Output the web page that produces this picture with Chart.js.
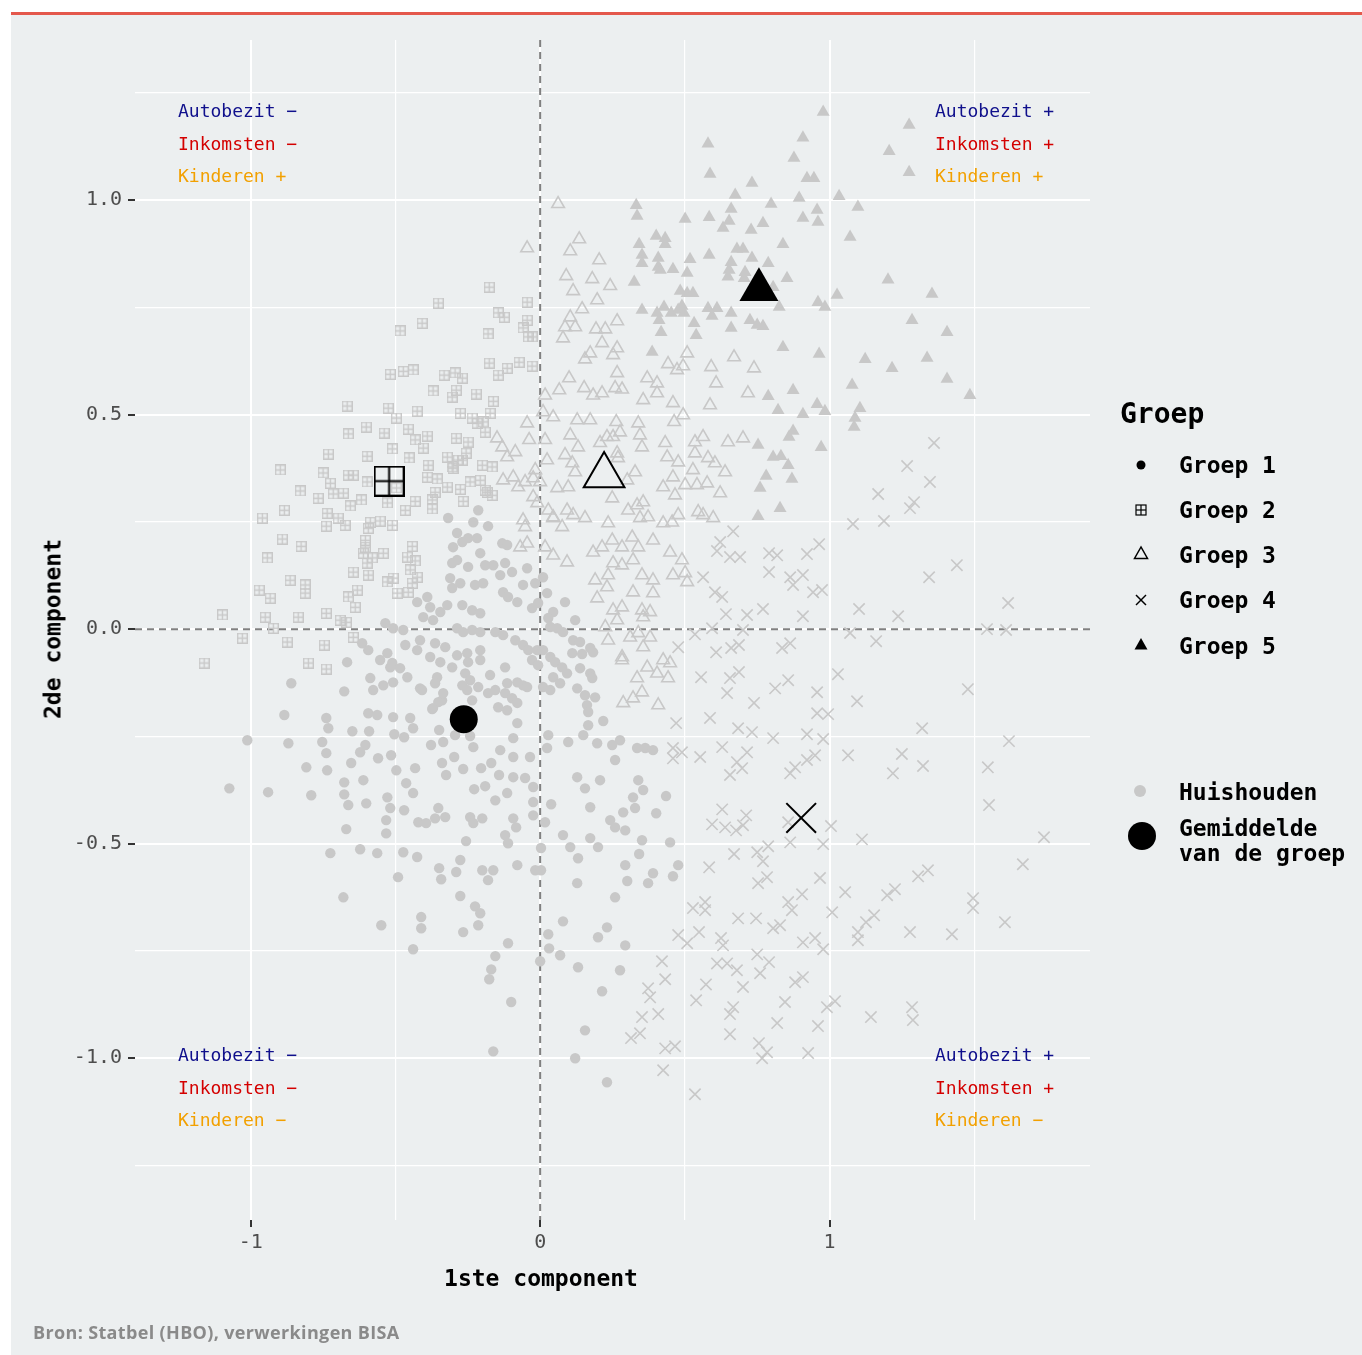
<!DOCTYPE html>
<html lang="nl">
<head>
<meta charset="utf-8">
<script src="https://cdn.jsdelivr.net/npm/chart.js@4.4.1/dist/chart.umd.min.js"></script>
<style>
  html, body { margin: 0; padding: 0; background: #fff; }
  body { width: 1362px; height: 1355px; position: relative; overflow: hidden; font-family: 'DejaVu Sans Mono', monospace; }
  .card { position: absolute; left: 11px; top: 12px; width: 1351px; height: 1343px; background: #eceff0; border-top: 3px solid #e4584c; box-sizing: border-box; }
  #pca { position: absolute; left: 0; top: 0; }
  .note { position: absolute; font-size: 18px; line-height: 18px; white-space: pre; }
  .auto { color: #10108c; }
  .ink { color: #d40000; }
  .kind { color: #f2a000; }
  .leg { position: absolute; left: 1179px; font-size: 23px; line-height: 23px; font-weight: bold; color: #000; white-space: pre; }
  .legtitle { position: absolute; left: 1120px; top: 400px; font-size: 28px; line-height: 28px; font-weight: bold; }
  .axtitle { position: absolute; font-size: 23px; line-height: 23px; font-weight: bold; white-space: pre; }
  .bron { position: absolute; left: 33px; top: 1321px; font-family: 'Open Sans', sans-serif; font-weight: bold; font-size: 18px; letter-spacing: 0.35px; line-height: 22px; color: #8a8a8a; }
  #legsym { position: absolute; left: 0; top: 0; }
</style>
</head>
<body>
<div class="card"></div>
<canvas id="pca" width="1362" height="1355"></canvas>

<div class="note auto" style="left:178px;top:102px">Autobezit −</div>
<div class="note ink" style="left:178px;top:135px">Inkomsten −</div>
<div class="note kind" style="left:178px;top:167px">Kinderen +</div>
<div class="note auto" style="left:935px;top:102px">Autobezit +</div>
<div class="note ink" style="left:935px;top:135px">Inkomsten +</div>
<div class="note kind" style="left:935px;top:167px">Kinderen +</div>
<div class="note auto" style="left:178px;top:1046px">Autobezit −</div>
<div class="note ink" style="left:178px;top:1079px">Inkomsten −</div>
<div class="note kind" style="left:178px;top:1111px">Kinderen −</div>
<div class="note auto" style="left:935px;top:1046px">Autobezit +</div>
<div class="note ink" style="left:935px;top:1079px">Inkomsten +</div>
<div class="note kind" style="left:935px;top:1111px">Kinderen −</div>

<div class="axtitle" style="left:541px;top:1267px;transform:translateX(-50%)">1ste component</div>
<div class="axtitle" style="left:53px;top:629px;transform:translate(-50%,-50%) rotate(-90deg)">2de component</div>

<div class="legtitle">Groep</div>
<div class="leg" style="top:454px">Groep 1</div>
<div class="leg" style="top:499px">Groep 2</div>
<div class="leg" style="top:544px">Groep 3</div>
<div class="leg" style="top:589px">Groep 4</div>
<div class="leg" style="top:635px">Groep 5</div>
<div class="leg" style="top:781px">Huishouden</div>
<div class="leg" style="top:817px">Gemiddelde</div>
<div class="leg" style="top:842px">van de groep</div>

<svg id="legsym" width="1362" height="1355">
  <circle cx="1141" cy="465" r="4.5" fill="#000"/>
  <g stroke="#000" stroke-width="1.2" fill="none">
    <rect x="1136" y="505" width="10" height="10"/>
    <line x1="1141" y1="505" x2="1141" y2="515"/>
    <line x1="1136" y1="510" x2="1146" y2="510"/>
  </g>
  <polygon points="1141,547 1134.5,558.5 1147.5,558.5" fill="none" stroke="#000" stroke-width="1.5"/>
  <g stroke="#000" stroke-width="1.5">
    <line x1="1136" y1="595" x2="1146" y2="605"/>
    <line x1="1146" y1="595" x2="1136" y2="605"/>
  </g>
  <polygon points="1141,638 1134.5,649.5 1147.5,649.5" fill="#000"/>
  <circle cx="1140" cy="791" r="6" fill="rgb(200,200,200)"/>
  <circle cx="1142" cy="836" r="14" fill="#000"/>
</svg>

<div class="bron">Bron: Statbel (HBO), verwerkingen BISA</div>

<script>
// axes
const X_GRID = [-1, -0.5, 0, 0.5, 1, 1.5];
const X_LABELS = [-1, 0, 1];
const Y_GRID = [-1.25, -1, -0.75, -0.5, -0.25, 0, 0.25, 0.5, 0.75, 1, 1.25];
const Y_LABELS = [-1, -0.5, 0, 0.5, 1];

// group means: Groep 1..5
const MEAN_X = [-0.264, -0.522, 0.221, 0.902, 0.756];
const MEAN_Y = [-0.210, 0.345, 0.358, -0.440, 0.791];

// households, [1ste component, 2de component]
const GROEP1 = [
  [-0.214,0.277],[-0.318,0.259],[-0.231,0.249],[-0.180,0.240],[-0.287,0.224],[-0.249,0.212],[-0.218,0.212],[-0.301,0.191],
  [-0.269,0.203],[-0.131,0.200],[-0.114,0.196],[-0.207,0.177],[-0.304,0.154],[-0.287,0.161],[-0.249,0.145],[-0.190,0.149],
  [-0.162,0.149],[-0.121,0.154],[-0.045,0.142],[-0.097,0.133],[-0.138,0.126],[-0.311,0.119],[-0.276,0.107],[-0.225,0.103],
  [-0.197,0.107],[-0.059,0.103],[-0.017,0.107],[0.010,0.121],[-0.304,0.096],[-0.128,0.086],[-0.111,0.075],[-0.079,0.063],
  [-0.390,0.075],[-0.425,0.063],[-0.380,0.051],[-0.321,0.056],[-0.345,0.040],[-0.269,0.056],[-0.235,0.044],[-0.207,0.037],
  [-0.370,0.021],[-0.404,0.028],[-0.028,0.049],[-0.007,0.061],[0.024,0.084],[0.086,0.063],[0.045,0.040],[0.121,0.021],
  [0.028,0.026],[-0.535,0.014],[-0.508,0.002],[-0.473,-0.002],[-0.287,0.002],[-0.266,-0.007],[-0.235,-0.002],[-0.207,-0.007],
  [-0.155,-0.007],[-0.128,-0.014],[0.035,0.005],[0.059,0.002],[0.079,-0.007],[0.114,-0.026],[0.138,-0.030],[-0.086,-0.026],
  [-0.059,-0.037],[-0.041,-0.049],[-0.010,-0.049],[0.010,-0.049],[-0.028,-0.072],[-0.007,-0.084],[0.035,-0.065],[0.052,-0.077],
  [0.111,-0.056],[0.145,-0.058],[0.173,-0.044],[0.183,-0.054],[0.076,-0.089],[0.093,-0.103],[0.138,-0.091],[0.173,-0.103],
  [0.180,-0.114],[0.045,-0.112],[0.069,-0.126],[0.128,-0.138],[0.155,-0.154],[0.190,-0.159],[0.162,-0.177],[0.166,-0.193],
  [0.010,-0.135],[0.035,-0.142],[-0.114,-0.126],[-0.079,-0.124],[-0.059,-0.131],[-0.045,-0.135],[-0.121,-0.149],[-0.097,-0.161],
  [-0.079,-0.172],[-0.173,-0.107],[-0.155,-0.142],[-0.145,-0.182],[-0.114,-0.189],[-0.415,-0.026],[-0.363,-0.033],[-0.328,-0.042],
  [-0.466,-0.037],[-0.425,-0.049],[-0.528,-0.056],[-0.511,-0.079],[-0.484,-0.091],[-0.380,-0.065],[-0.345,-0.077],[-0.287,-0.061],
  [-0.252,-0.056],[-0.249,-0.077],[-0.207,-0.049],[-0.207,-0.072],[-0.259,-0.103],[-0.242,-0.119],[-0.459,-0.112],[-0.415,-0.138],
  [-0.356,-0.112],[-0.363,-0.126],[-0.304,-0.089],[-0.339,-0.166],[-0.370,-0.184],[-0.269,-0.131],[-0.252,-0.142],[-0.214,-0.135],
  [-0.235,-0.166],[-0.180,-0.149],[-0.615,-0.033],[-0.594,-0.049],[-0.667,-0.077],[-0.553,-0.072],[-0.518,-0.089],[-0.587,-0.114],
  [-0.577,-0.142],[-0.542,-0.131],[-0.508,-0.124],[-0.408,-0.142],[-0.335,-0.149],[-0.352,-0.170],[-0.373,-0.186],[-0.121,-0.089],
  [-0.079,-0.219],[-0.093,-0.254],[-0.093,-0.298],[-0.138,-0.282],[-0.035,-0.298],[-0.052,-0.347],[-0.024,-0.368],[-0.093,-0.345],
  [-0.114,-0.382],[-0.024,-0.403],[-0.024,-0.434],[-0.093,-0.441],[-0.083,-0.462],[-0.121,-0.480],[-0.111,-0.499],[-0.079,-0.550],
  [-0.017,-0.562],[-0.162,-0.562],[-0.180,-0.585],[-0.200,-0.562],[-0.256,-0.494],[-0.276,-0.538],[-0.290,-0.566],[-0.276,-0.622],
  [-0.225,-0.646],[-0.207,-0.662],[-0.214,-0.690],[-0.266,-0.706],[-0.111,-0.732],[-0.155,-0.762],[-0.169,-0.793],[-0.176,-0.816],
  [-0.100,-0.869],[-0.162,-0.984],[-0.411,-0.671],[-0.411,-0.697],[-0.439,-0.746],[-0.549,-0.690],[-0.680,-0.625],[-0.491,-0.578],
  [-0.622,-0.513],[-0.563,-0.522],[-0.473,-0.520],[-0.425,-0.531],[-0.725,-0.522],[-0.670,-0.466],[-0.532,-0.476],[-0.532,-0.445],
  [-0.518,-0.417],[-0.470,-0.422],[-0.421,-0.450],[-0.394,-0.452],[-0.363,-0.441],[-0.352,-0.417],[-0.328,-0.438],[-0.242,-0.438],
  [-0.231,-0.452],[-0.200,-0.441],[-0.349,-0.557],[-0.342,-0.583],[-0.528,-0.392],[-0.439,-0.382],[-0.463,-0.359],[-0.611,-0.352],
  [-0.677,-0.357],[-0.677,-0.385],[-0.663,-0.410],[-0.601,-0.406],[-0.808,-0.322],[-0.736,-0.329],[-0.653,-0.312],[-0.604,-0.270],
  [-0.622,-0.287],[-0.560,-0.301],[-0.515,-0.294],[-0.497,-0.329],[-0.432,-0.324],[-0.339,-0.312],[-0.325,-0.340],[-0.297,-0.298],
  [-0.266,-0.326],[-0.231,-0.275],[-0.204,-0.324],[-0.169,-0.312],[-0.142,-0.340],[-0.155,-0.399],[-0.228,-0.373],[-0.190,-0.366],
  [-0.377,-0.270],[-0.335,-0.263],[-0.294,-0.247],[-0.242,-0.249],[-0.349,-0.235],[-0.439,-0.231],[-0.470,-0.252],[-0.504,-0.245],
  [-0.591,-0.238],[-0.649,-0.238],[-0.739,-0.207],[-0.732,-0.231],[-0.753,-0.263],[-0.739,-0.289],[-0.870,-0.266],[-0.884,-0.200],
  [-0.860,-0.126],[-0.677,-0.145],[-1.012,-0.259],[-1.074,-0.371],[-0.940,-0.380],[-0.791,-0.387],[-0.594,-0.196],[-0.563,-0.200],
  [-0.508,-0.205],[-0.449,-0.207],[0.218,-0.214],[0.166,-0.224],[0.149,-0.247],[0.097,-0.263],[0.197,-0.266],[0.249,-0.270],
  [0.276,-0.259],[0.335,-0.277],[0.363,-0.277],[0.390,-0.282],[0.259,-0.305],[0.128,-0.345],[0.155,-0.371],[0.207,-0.352],
  [0.339,-0.352],[0.356,-0.375],[0.321,-0.392],[0.435,-0.389],[0.173,-0.415],[0.287,-0.427],[0.328,-0.417],[0.401,-0.429],
  [0.242,-0.445],[0.259,-0.462],[0.294,-0.469],[0.079,-0.480],[0.173,-0.487],[0.352,-0.492],[0.449,-0.497],[0.104,-0.508],
  [0.200,-0.508],[0.342,-0.524],[0.131,-0.534],[0.294,-0.550],[0.477,-0.550],[0.128,-0.592],[0.301,-0.587],[0.373,-0.592],
  [0.390,-0.569],[0.459,-0.576],[0.259,-0.625],[0.079,-0.681],[0.231,-0.695],[0.200,-0.718],[0.294,-0.737],[0.069,-0.760],
  [0.131,-0.788],[0.276,-0.795],[0.214,-0.844],[0.155,-0.935],[0.121,-1.000],[0.231,-1.056],[0.028,-0.711],[0.031,-0.744],
  [0.000,-0.774],[0.003,-0.562],[0.028,-0.247],[0.024,-0.277],[0.038,-0.408],[0.017,-0.450],[0.003,-0.510]
];

const GROEP2 = [
  [-0.176,0.797],[-0.352,0.760],[-0.045,0.762],[-0.408,0.713],[-0.484,0.695],[-0.145,0.737],[-0.124,0.727],[-0.045,0.720],
  [-0.059,0.702],[-0.041,0.681],[-0.028,0.681],[-0.180,0.688],[-0.518,0.594],[-0.473,0.601],[-0.439,0.604],[-0.332,0.592],
  [-0.294,0.597],[-0.269,0.585],[-0.176,0.620],[-0.145,0.592],[-0.114,0.608],[-0.073,0.622],[-0.028,0.613],[-0.370,0.555],
  [-0.304,0.541],[-0.290,0.557],[-0.221,0.548],[-0.162,0.531],[-0.173,0.503],[-0.667,0.520],[-0.525,0.515],[-0.497,0.492],
  [-0.425,0.508],[-0.276,0.503],[-0.235,0.492],[-0.218,0.480],[-0.197,0.483],[-0.190,0.459],[-0.601,0.471],[-0.663,0.455],
  [-0.539,0.457],[-0.456,0.466],[-0.432,0.441],[-0.390,0.450],[-0.404,0.422],[-0.290,0.445],[-0.249,0.436],[-0.256,0.410],
  [-0.269,0.394],[-0.301,0.375],[-0.732,0.408],[-0.598,0.403],[-0.511,0.420],[-0.453,0.399],[-0.321,0.401],[-0.898,0.371],
  [-0.750,0.364],[-0.725,0.340],[-0.663,0.359],[-0.646,0.359],[-0.598,0.343],[-0.387,0.382],[-0.390,0.354],[-0.356,0.350],
  [-0.200,0.382],[-0.166,0.378],[-0.207,0.347],[-0.242,0.343],[-0.190,0.324],[-0.166,0.312],[-0.829,0.322],[-0.767,0.305],
  [-0.715,0.315],[-0.680,0.317],[-0.656,0.287],[-0.618,0.301],[-0.497,0.329],[-0.528,0.294],[-0.432,0.298],[-0.363,0.319],
  [-0.373,0.301],[-0.373,0.280],[-0.321,0.331],[-0.276,0.326],[-0.266,0.298],[-0.466,0.277],[-0.884,0.277],[-0.960,0.259],
  [-0.736,0.270],[-0.739,0.240],[-0.698,0.259],[-0.674,0.242],[-0.587,0.249],[-0.553,0.252],[-0.511,0.242],[-0.594,0.235],
  [-0.604,0.207],[-0.604,0.191],[-0.611,0.177],[-0.598,0.154],[-0.580,0.166],[-0.542,0.177],[-0.442,0.193],[-0.459,0.168],
  [-0.432,0.159],[-0.449,0.138],[-0.425,0.121],[-0.442,0.107],[-0.891,0.210],[-0.826,0.193],[-0.943,0.166],[-0.646,0.133],
  [-0.594,0.126],[-0.864,0.114],[-0.812,0.103],[-0.812,0.084],[-0.971,0.091],[-0.933,0.072],[-0.508,0.119],[-0.528,0.110],
  [-0.494,0.084],[-0.456,0.086],[-0.663,0.075],[-0.632,0.091],[-0.639,0.051],[-1.098,0.033],[-0.950,0.028],[-0.836,0.028],
  [-0.739,0.037],[-0.691,0.021],[-0.670,0.016],[-0.922,0.002],[-1.029,-0.021],[-0.874,-0.030],[-0.746,-0.037],[-0.646,-0.019],
  [-1.161,-0.079],[-0.801,-0.079],[-0.739,-0.093],[-0.183,0.319],[-0.304,0.378],[-0.283,0.394]
];

const GROEP3 = [
  [0.062,0.991],[-0.045,0.888],[0.135,0.909],[0.104,0.881],[0.204,0.860],[0.090,0.823],[0.180,0.816],[0.242,0.800],
  [0.114,0.788],[0.197,0.767],[0.145,0.746],[0.104,0.727],[0.086,0.704],[0.121,0.704],[0.193,0.699],[0.225,0.699],
  [0.266,0.718],[0.079,0.678],[0.214,0.667],[0.266,0.655],[0.173,0.643],[0.155,0.629],[0.252,0.639],[0.508,0.643],
  [0.442,0.618],[0.473,0.604],[0.494,0.613],[0.266,0.597],[0.100,0.585],[0.066,0.557],[0.017,0.545],[0.152,0.562],
  [0.183,0.545],[0.214,0.550],[0.259,0.562],[0.283,0.559],[0.370,0.585],[0.404,0.573],[0.356,0.534],[0.404,0.550],
  [0.591,0.611],[0.608,0.573],[0.670,0.634],[0.739,0.608],[0.718,0.550],[0.587,0.522],[0.459,0.527],[0.494,0.499],
  [0.463,0.483],[0.263,0.483],[0.339,0.480],[0.128,0.487],[0.173,0.487],[0.045,0.494],[0.010,0.506],[0.104,0.452],
  [0.231,0.448],[0.276,0.459],[0.345,0.452],[0.432,0.434],[0.535,0.436],[0.563,0.448],[0.649,0.436],[0.701,0.445],
  [0.207,0.434],[0.017,0.441],[-0.045,0.480],[0.352,0.424],[0.131,0.424],[0.086,0.406],[0.111,0.387],[0.121,0.366],
  [-0.038,0.441],[0.024,0.394],[-0.017,0.371],[-0.024,0.352],[-0.052,0.343],[0.000,0.343],[0.252,0.448],[0.266,0.410],
  [0.269,0.399],[0.059,0.329],[0.097,0.331],[0.328,0.366],[0.301,0.347],[0.439,0.401],[0.477,0.389],[0.459,0.354],
  [0.425,0.331],[0.466,0.312],[0.501,0.336],[0.542,0.336],[0.577,0.340],[0.528,0.371],[0.535,0.410],[0.580,0.399],
  [0.604,0.387],[0.639,0.366],[0.622,0.317],[0.249,0.305],[0.304,0.277],[0.335,0.289],[0.356,0.296],[0.373,0.261],
  [0.345,0.259],[0.155,0.259],[0.114,0.266],[0.093,0.277],[0.076,0.238],[0.045,0.259],[0.235,0.247],[0.425,0.247],
  [0.456,0.249],[0.477,0.266],[0.546,0.273],[0.563,0.266],[0.598,0.259],[-0.059,0.254],[-0.052,0.238],[-0.045,0.200],
  [-0.069,0.191],[0.017,0.191],[0.045,0.172],[0.093,0.156],[0.183,0.179],[0.214,0.191],[0.249,0.207],[0.283,0.191],
  [0.318,0.214],[0.339,0.191],[0.390,0.207],[0.252,0.154],[0.283,0.149],[0.321,0.161],[0.449,0.179],[0.490,0.161],
  [0.190,0.114],[0.235,0.126],[0.231,0.098],[0.197,0.072],[0.352,0.126],[0.390,0.114],[0.321,0.086],[0.390,0.084],
  [0.459,0.126],[0.501,0.131],[0.508,0.110],[0.252,0.044],[0.283,0.051],[0.266,0.021],[0.352,0.044],[0.380,0.040],
  [0.356,0.028],[0.225,0.005],[0.235,-0.026],[0.311,-0.019],[0.339,-0.009],[0.380,-0.019],[0.356,-0.042],[0.283,-0.065],
  [0.283,-0.072],[0.370,-0.089],[0.425,-0.072],[0.449,-0.079],[0.442,-0.114],[0.404,-0.103],[0.335,-0.114],[0.352,-0.147],
  [0.321,-0.161],[0.287,-0.172],[0.408,-0.177],[-0.149,0.445],[-0.131,0.424],[-0.114,0.401],[-0.086,0.413],[-0.128,0.347],
  [-0.093,0.354],[-0.076,0.331],[-0.024,0.308],[-0.010,0.294],[0.028,0.277],[0.045,0.261]
];

const GROEP4 = [
  [1.361,0.434],[1.268,0.380],[1.347,0.343],[1.168,0.315],[1.292,0.296],[1.278,0.282],[1.081,0.245],[1.188,0.252],
  [0.667,0.228],[0.622,0.203],[0.611,0.182],[0.656,0.168],[0.691,0.168],[0.791,0.177],[0.819,0.172],[0.922,0.175],
  [0.964,0.198],[0.791,0.133],[0.864,0.121],[0.874,0.103],[0.908,0.126],[0.943,0.086],[0.974,0.091],[0.563,0.121],
  [0.604,0.086],[0.629,0.075],[1.344,0.121],[1.440,0.149],[0.642,0.035],[0.715,0.033],[0.770,0.047],[0.908,0.030],
  [1.102,0.047],[1.237,0.030],[1.617,0.061],[0.594,0.002],[0.701,-0.002],[0.535,-0.012],[1.071,-0.009],[1.161,-0.028],
  [1.544,0.000],[1.610,-0.002],[0.477,-0.042],[0.608,-0.054],[0.660,-0.044],[0.687,-0.037],[0.836,-0.044],[0.864,-0.033],
  [0.556,-0.112],[0.656,-0.114],[0.687,-0.100],[0.812,-0.138],[0.857,-0.119],[1.029,-0.105],[1.478,-0.140],[0.646,-0.149],
  [0.739,-0.172],[0.957,-0.147],[1.095,-0.168],[0.957,-0.196],[0.995,-0.198],[0.587,-0.207],[0.470,-0.219],[0.684,-0.231],
  [0.732,-0.240],[0.805,-0.254],[0.922,-0.245],[0.978,-0.256],[1.320,-0.231],[1.620,-0.261],[0.459,-0.277],[0.490,-0.287],
  [0.459,-0.301],[0.553,-0.298],[0.629,-0.275],[0.715,-0.287],[1.064,-0.294],[1.250,-0.291],[1.323,-0.319],[1.547,-0.322],
  [1.219,-0.336],[0.680,-0.310],[0.698,-0.324],[0.656,-0.340],[0.864,-0.336],[0.881,-0.322],[0.922,-0.305],[0.950,-0.294],
  [0.629,-0.420],[0.712,-0.434],[0.701,-0.457],[0.594,-0.455],[0.639,-0.462],[0.677,-0.469],[0.857,-0.450],[1.005,-0.459],
  [1.112,-0.490],[1.551,-0.410],[1.741,-0.485],[1.668,-0.548],[0.670,-0.524],[0.750,-0.520],[0.770,-0.541],[0.864,-0.497],
  [0.978,-0.501],[0.788,-0.506],[0.584,-0.555],[0.753,-0.592],[0.784,-0.578],[0.967,-0.580],[1.054,-0.613],[1.199,-0.620],
  [1.226,-0.606],[1.306,-0.576],[1.340,-0.562],[1.496,-0.627],[1.496,-0.650],[1.606,-0.683],[0.528,-0.650],[0.570,-0.636],
  [0.570,-0.655],[0.684,-0.674],[0.746,-0.674],[0.905,-0.618],[0.857,-0.636],[0.870,-0.655],[1.009,-0.660],[0.805,-0.697],
  [0.829,-0.690],[1.154,-0.667],[1.126,-0.683],[1.098,-0.706],[1.098,-0.725],[1.278,-0.706],[1.423,-0.711],[0.477,-0.713],
  [0.508,-0.732],[0.549,-0.706],[0.625,-0.720],[0.632,-0.737],[0.908,-0.730],[0.950,-0.720],[0.978,-0.746],[0.750,-0.758],
  [0.791,-0.776],[0.611,-0.779],[0.646,-0.779],[0.680,-0.795],[0.760,-0.802],[0.421,-0.774],[0.432,-0.816],[0.373,-0.837],
  [0.380,-0.858],[0.573,-0.828],[0.701,-0.834],[0.881,-0.823],[0.908,-0.811],[0.539,-0.865],[0.846,-0.869],[0.991,-0.881],
  [1.019,-0.867],[0.667,-0.881],[0.656,-0.897],[0.352,-0.904],[0.408,-0.897],[0.819,-0.918],[0.960,-0.925],[1.143,-0.904],
  [1.285,-0.881],[1.288,-0.911],[0.314,-0.953],[0.345,-0.942],[0.432,-0.977],[0.466,-0.972],[0.656,-0.944],[0.756,-0.965],
  [0.784,-0.986],[0.767,-1.000],[0.926,-0.988],[0.425,-1.028],[0.535,-1.084]
];

const GROEP5 = [
  [0.978,1.205],[1.275,1.175],[0.908,1.145],[0.580,1.131],[0.877,1.098],[1.206,1.114],[1.275,1.065],[0.587,1.061],
  [0.922,1.051],[0.946,1.051],[0.732,1.040],[0.674,1.012],[0.895,1.005],[1.033,1.009],[1.098,0.984],[0.798,0.991],
  [0.332,0.988],[0.335,0.963],[0.501,0.956],[0.584,0.960],[0.660,0.979],[0.653,0.951],[0.632,0.935],[0.957,0.977],
  [0.908,0.958],[0.960,0.949],[0.770,0.946],[0.729,0.930],[1.071,0.914],[0.401,0.916],[0.432,0.911],[0.432,0.897],
  [0.342,0.897],[0.352,0.872],[0.352,0.853],[0.408,0.865],[0.408,0.844],[0.415,0.837],[0.459,0.839],[0.518,0.862],
  [0.508,0.830],[0.584,0.872],[0.680,0.886],[0.701,0.886],[0.660,0.855],[0.653,0.837],[0.649,0.821],[0.732,0.865],
  [0.788,0.853],[0.839,0.897],[0.708,0.832],[0.705,0.818],[0.853,0.818],[0.325,0.809],[0.484,0.788],[0.508,0.783],
  [0.528,0.783],[0.805,0.797],[1.202,0.814],[1.354,0.781],[1.026,0.779],[0.960,0.762],[0.984,0.751],[0.826,0.751],
  [0.352,0.744],[0.404,0.737],[0.428,0.751],[0.453,0.737],[0.477,0.744],[0.490,0.753],[0.497,0.737],[0.411,0.720],
  [0.418,0.692],[0.580,0.748],[0.611,0.748],[0.594,0.730],[0.660,0.737],[0.532,0.713],[0.539,0.685],[0.660,0.702],
  [0.725,0.720],[0.750,0.709],[0.770,0.706],[0.839,0.657],[0.387,0.646],[0.964,0.641],[1.123,0.629],[1.216,0.608],
  [1.337,0.632],[1.285,0.720],[1.406,0.692],[1.406,0.583],[1.485,0.545],[1.078,0.569],[0.788,0.543],[0.874,0.557],
  [0.822,0.510],[0.908,0.501],[0.957,0.524],[0.984,0.508],[1.105,0.515],[1.088,0.492],[1.085,0.471],[0.874,0.462],
  [0.860,0.448],[0.753,0.429],[0.971,0.424],[0.805,0.401],[0.832,0.403],[0.857,0.382],[0.781,0.357],[0.870,0.350],
  [0.760,0.329],[0.829,0.282],[0.753,0.263]
];

const GREY = 'rgb(200,200,200)';

// square with a plus inside, used as point style for Groep 2
function squarePlus(size, color, lw) {
  const c = document.createElement('canvas');
  c.width = size;
  c.height = size;
  const g = c.getContext('2d');
  g.strokeStyle = color;
  g.lineWidth = lw;
  g.strokeRect(lw / 2, lw / 2, size - lw, size - lw);
  g.beginPath();
  g.moveTo(size / 2, 0); g.lineTo(size / 2, size);
  g.moveTo(0, size / 2); g.lineTo(size, size / 2);
  g.stroke();
  return c;
}
const sqGrey = squarePlus(11, GREY, 1.4);
const sqMean = squarePlus(31, '#000', 2);

const pts = arr => arr.map(([x, y]) => ({ x, y }));

// dashed reference lines through 0 on both axes
const zeroLines = {
  id: 'zeroLines',
  beforeDatasetsDraw(chart) {
    const { ctx, chartArea: a, scales: { x, y } } = chart;
    const x0 = x.getPixelForValue(0);
    const y0 = y.getPixelForValue(0);
    ctx.save();
    ctx.strokeStyle = '#808080';
    ctx.lineWidth = 2;
    ctx.setLineDash([7, 5]);
    ctx.beginPath();
    ctx.moveTo(x0, a.top); ctx.lineTo(x0, a.bottom);
    ctx.moveTo(a.left, y0); ctx.lineTo(a.right, y0);
    ctx.stroke();
    ctx.restore();
  }
};

const tickFont = { family: 'DejaVu Sans Mono', size: 20 };

new Chart(document.getElementById('pca'), {
  type: 'scatter',
  data: {
    datasets: [
      {
        label: 'Gemiddelde van de groep',
        data: MEAN_X.map((x, i) => ({ x, y: MEAN_Y[i] })),
        order: -1,
        pointStyle: ['circle', sqMean, 'triangle', 'crossRot', 'triangle'],
        pointRadius: [14, 16, 23.5, 21, 22.5],
        pointBackgroundColor: ['#000', '#000', 'rgba(0,0,0,0)', '#000', '#000'],
        pointBorderColor: '#000',
        pointBorderWidth: [0, 0, 2, 2, 0]
      },
      { label: 'Groep 1', data: pts(GROEP1), pointStyle: 'circle', pointRadius: 5.2,
        pointBackgroundColor: GREY, pointBorderWidth: 0 },
      { label: 'Groep 2', data: pts(GROEP2), pointStyle: sqGrey, pointRadius: 6 },
      { label: 'Groep 3', data: pts(GROEP3), pointStyle: 'triangle', pointRadius: 7.3,
        pointBackgroundColor: 'rgba(0,0,0,0)', pointBorderColor: GREY, pointBorderWidth: 1.6 },
      { label: 'Groep 4', data: pts(GROEP4), pointStyle: 'crossRot', pointRadius: 8,
        pointBorderColor: GREY, pointBorderWidth: 1.6 },
      { label: 'Groep 5', data: pts(GROEP5), pointStyle: 'triangle', pointRadius: 7.5,
        pointBackgroundColor: GREY, pointBorderWidth: 0 }
    ]
  },
  options: {
    responsive: false,
    animation: false,
    events: [],
    layout: { padding: { top: 40, right: 272, bottom: 0, left: 0 } },
    plugins: { legend: { display: false }, tooltip: { enabled: false } },
    scales: {
      x: {
        type: 'linear',
        min: -1.4,
        max: 1.9,
        afterBuildTicks: s => { s.ticks = X_GRID.map(v => ({ value: v })); },
        afterFit: s => { s.height = 135; },
        border: { display: false },
        grid: {
          color: '#ffffff',
          lineWidth: c => X_LABELS.includes(c.tick.value) ? 2 : 1.2,
          tickLength: 7,
          tickWidth: 2,
          tickColor: c => X_LABELS.includes(c.tick.value) ? '#333333' : 'rgba(0,0,0,0)'
        },
        ticks: {
          autoSkip: false, maxRotation: 0, padding: 4, color: '#4d4d4d', font: tickFont,
          callback: v => X_LABELS.includes(v) ? String(v) : ''
        }
      },
      y: {
        type: 'linear',
        min: -1.377,
        max: 1.373,
        afterBuildTicks: s => { s.ticks = Y_GRID.map(v => ({ value: v })); },
        afterFit: s => { s.width = 135; },
        border: { display: false },
        grid: {
          color: '#ffffff',
          lineWidth: c => Y_LABELS.includes(c.tick.value) ? 2 : 1.2,
          tickLength: 7,
          tickWidth: 2,
          tickColor: c => Y_LABELS.includes(c.tick.value) ? '#333333' : 'rgba(0,0,0,0)'
        },
        ticks: {
          autoSkip: false, padding: 6, color: '#4d4d4d', font: tickFont,
          callback: v => Y_LABELS.includes(v) ? v.toFixed(1) : ''
        }
      }
    }
  },
  plugins: [zeroLines]
});
</script>
</body>
</html>
